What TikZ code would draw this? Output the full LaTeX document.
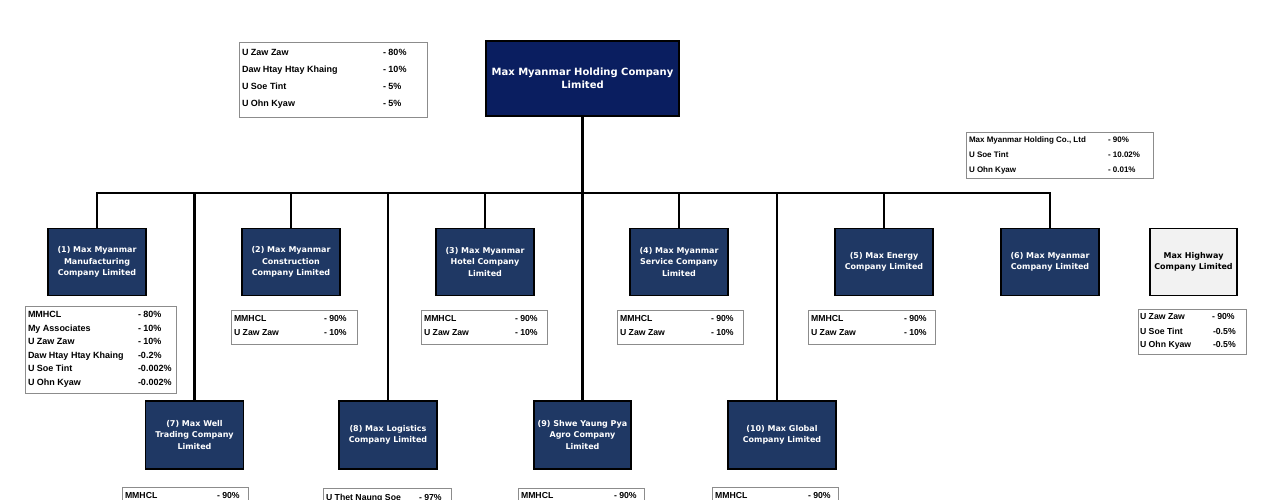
\documentclass[tikz,border=0pt]{standalone}
\usepackage{fontspec}
\setmainfont{Liberation Sans}
\newfontfamily\unitfont{DejaVu Sans}
\begin{document}
\begin{tikzpicture}[x=1pt,y=1pt,
  unit/.style={draw=black,line width=1.5pt,fill=unitColor,text=white,align=center,
    inner sep=0pt,outer sep=0pt,minimum width=98pt,minimum height=67pt,
    font=\unitfont\bfseries\fontsize{8}{11.5}\selectfont},
  link/.style={draw=black,line width=2.5pt},
  share/.style={draw=shareColor,line width=0.8pt,fill=white},
  cell/.style={anchor=base west,inner sep=0pt,outer sep=0pt,
    font=\bfseries\fontsize{8.7}{10}\selectfont}]
\definecolor{topColor}{RGB}{10,30,96}
\definecolor{unitColor}{RGB}{31,56,100}
\definecolor{hwColor}{RGB}{242,242,242}
\definecolor{shareColor}{RGB}{140,140,140}
\path[use as bounding box,fill=white] (0,0) rectangle (1280,500);
\begin{scope}
\path[clip] (0,0) rectangle (1280,500);

% holding company and its shareholders
\node[unit,fill=topColor,minimum width=193pt,minimum height=75pt,
  font=\unitfont\bfseries\fontsize{10}{13.3}\selectfont] (mmhcl) at (582.5,421.5) {Max Myanmar Holding Company\\Limited};

\path[share] (239,383) rectangle (427,458);
\node[cell,font=\bfseries\fontsize{9}{10}\selectfont] (n0a) at (242,444.5) {U Zaw Zaw};
\node[cell,font=\bfseries\fontsize{9}{10}\selectfont] (p0a) at (383,444.5) {- 80\%};
\node[cell,font=\bfseries\fontsize{9}{10}\selectfont] (n0b) at (242,427.5) {Daw Htay Htay Khaing};
\node[cell,font=\bfseries\fontsize{9}{10}\selectfont] (p0b) at (383,427.5) {- 10\%};
\node[cell,font=\bfseries\fontsize{9}{10}\selectfont] (n0c) at (242,410.5) {U Soe Tint};
\node[cell,font=\bfseries\fontsize{9}{10}\selectfont] (p0c) at (383,410.5) {- 5\%};
\node[cell,font=\bfseries\fontsize{9}{10}\selectfont] (n0d) at (242,393.5) {U Ohn Kyaw};
\node[cell,font=\bfseries\fontsize{9}{10}\selectfont] (p0d) at (383,393.5) {- 5\%};

\path[share] (966,322) rectangle (1153,368);
\node[cell,font=\bfseries\fontsize{8}{9}\selectfont] (n6a) at (969,357) {Max Myanmar Holding Co., Ltd};
\node[cell,font=\bfseries\fontsize{8}{9}\selectfont] (p6a) at (1108,357) {- 90\%};
\node[cell,font=\bfseries\fontsize{8}{9}\selectfont] (n6b) at (969,342) {U Soe Tint};
\node[cell,font=\bfseries\fontsize{8}{9}\selectfont] (p6b) at (1108,342) {- 10.02\%};
\node[cell,font=\bfseries\fontsize{8}{9}\selectfont] (n6c) at (969,327.5) {U Ohn Kyaw};
\node[cell,font=\bfseries\fontsize{8}{9}\selectfont] (p6c) at (1108,327.5) {- 0.01\%};

% first row of companies
\node[unit] (mmmc) at (97,238) {(1) Max Myanmar\\Manufacturing\\Company Limited};
\node[unit] (mmcc) at (291,238) {(2) Max Myanmar\\Construction\\Company Limited};
\node[unit] (mmhc) at (485,238) {(3) Max Myanmar\\Hotel Company\\Limited};
\node[unit] (mmsc) at (679,238) {(4) Max Myanmar\\Service Company\\Limited};
\node[unit] (mec) at (884,238) {(5) Max Energy\\Company Limited};
\node[unit] (mmc) at (1050,238) {(6) Max Myanmar\\Company Limited};
\node[unit,fill=hwColor,text=black,minimum width=87pt] (mhc) at (1193.5,238) {Max Highway\\Company Limited};

% second row of companies
\node[unit,minimum height=68pt] (mwtc) at (194.5,65) {(7) Max Well\\Trading Company\\Limited};
\node[unit,minimum height=68pt] (mlc) at (388,65) {(8) Max Logistics\\Company Limited};
\node[unit,minimum height=68pt,minimum width=97pt] (sypac) at (582.5,65) {(9) Shwe Yaung Pya\\Agro Company\\Limited};
\node[unit,minimum height=68pt,minimum width=108pt] (mgc) at (782,65) {(10) Max Global\\Company Limited};

% connectors
\coordinate (bus) at (582.5,307);
\draw[link] (mmhcl.south) -- (sypac.north);
\draw[link] (mmmc.north) |- (bus) -| (mmc.north);
\draw[link] (mmcc.north) -- (mmcc.north |- bus);
\draw[link] (mmhc.north) -- (mmhc.north |- bus);
\draw[link] (mmsc.north) -- (mmsc.north |- bus);
\draw[link] (mec.north) -- (mec.north |- bus);
\draw[link] (mwtc.north) -- (mwtc.north |- bus);
\draw[link] (mlc.north) -- (mlc.north |- bus);
\draw[link] ([xshift=-5pt]mgc.north) -- ([xshift=-5pt]mgc.north |- bus);

% shareholders of the first row
\path[share] (25,107) rectangle (176,194);
\node[cell,font=\bfseries\fontsize{9}{10}\selectfont] (n1a) at (28,182.5) {MMHCL};
\node[cell,font=\bfseries\fontsize{9}{10}\selectfont] (p1a) at (138,182.5) {- 80\%};
\node[cell,font=\bfseries\fontsize{9}{10}\selectfont] (n1b) at (28,168.9) {My Associates};
\node[cell,font=\bfseries\fontsize{9}{10}\selectfont] (p1b) at (138,168.9) {- 10\%};
\node[cell,font=\bfseries\fontsize{9}{10}\selectfont] (n1c) at (28,155.3) {U Zaw Zaw};
\node[cell,font=\bfseries\fontsize{9}{10}\selectfont] (p1c) at (138,155.3) {- 10\%};
\node[cell,font=\bfseries\fontsize{9}{10}\selectfont] (n1d) at (28,141.7) {Daw Htay Htay Khaing};
\node[cell,font=\bfseries\fontsize{9}{10}\selectfont] (p1d) at (138,141.7) {-0.2\%};
\node[cell,font=\bfseries\fontsize{9}{10}\selectfont] (n1e) at (28,128.1) {U Soe Tint};
\node[cell,font=\bfseries\fontsize{9}{10}\selectfont] (p1e) at (138,128.1) {-0.002\%};
\node[cell,font=\bfseries\fontsize{9}{10}\selectfont] (n1f) at (28,114.5) {U Ohn Kyaw};
\node[cell,font=\bfseries\fontsize{9}{10}\selectfont] (p1f) at (138,114.5) {-0.002\%};

\path[share] (231,156) rectangle (357,190);
\node[cell] (n2a) at (234,178.5) {MMHCL};
\node[cell] (p2a) at (324,178.5) {- 90\%};
\node[cell] (n2b) at (234,164) {U Zaw Zaw};
\node[cell] (p2b) at (324,164) {- 10\%};

\path[share] (421,156) rectangle (547,190);
\node[cell] (n3a) at (424,178.5) {MMHCL};
\node[cell] (p3a) at (515,178.5) {- 90\%};
\node[cell] (n3b) at (424,164) {U Zaw Zaw};
\node[cell] (p3b) at (515,164) {- 10\%};

\path[share] (617,156) rectangle (743,190);
\node[cell] (n4a) at (620,178.5) {MMHCL};
\node[cell] (p4a) at (711,178.5) {- 90\%};
\node[cell] (n4b) at (620,164) {U Zaw Zaw};
\node[cell] (p4b) at (711,164) {- 10\%};

\path[share] (808,156) rectangle (935,190);
\node[cell] (n5a) at (811,178.5) {MMHCL};
\node[cell] (p5a) at (904,178.5) {- 90\%};
\node[cell] (n5b) at (811,164) {U Zaw Zaw};
\node[cell] (p5b) at (904,164) {- 10\%};

\path[share] (1138,146) rectangle (1246,191);
\node[cell] (n7a) at (1140,180) {U Zaw Zaw};
\node[cell] (p7a) at (1212,180) {- 90\%};
\node[cell] (n7b) at (1140,165.5) {U Soe Tint};
\node[cell] (p7b) at (1213,165.5) {-0.5\%};
\node[cell] (n7c) at (1140,152) {U Ohn Kyaw};
\node[cell] (p7c) at (1213,152) {-0.5\%};

% shareholders of the second row (cut by the page)
\path[share] (122,-30) rectangle (248,13);
\node[cell] (n8a) at (125,1.7) {MMHCL};
\node[cell] (p8a) at (217,1.7) {- 90\%};

\path[share] (323,-30) rectangle (451,12);
\node[cell] (n9a) at (326,-0.5) {U Thet Naung Soe};
\node[cell] (p9a) at (419,-0.5) {- 97\%};

\path[share] (518,-30) rectangle (644,12);
\node[cell] (n10a) at (521,1.7) {MMHCL};
\node[cell] (p10a) at (614,1.7) {- 90\%};

\path[share] (712,-30) rectangle (838,13);
\node[cell] (n11a) at (715,1.7) {MMHCL};
\node[cell] (p11a) at (808,1.7) {- 90\%};
\end{scope}
\end{tikzpicture}
\end{document}
